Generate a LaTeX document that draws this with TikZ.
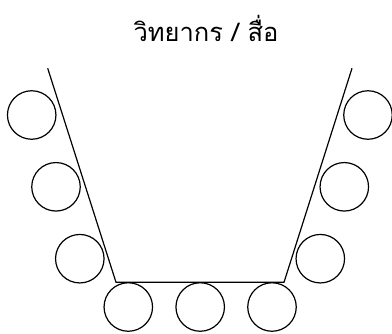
\documentclass[tikz,border=0pt]{standalone}
\usepackage{fontspec}
\newfontfamily\thaifont[Script=Thai]{Loma}
\tikzset{seat/.style={draw, black, line width=1.2pt, circle, minimum size=48.5pt, inner sep=0pt}}
\tikzset{table/.style={draw, black, line width=1.2pt}}

\begin{document}
\begin{tikzpicture}[x=1pt,y=-1pt]
      \useasboundingbox (0,0) rectangle (392,333);

      % speaker
      \node (speaker) at (206,28) {\thaifont\fontsize{25.5}{30}\selectfont วิทยากร / สื่อ};

      % table corners
      \coordinate (tl) at (47.7,68.3);
      \coordinate (bl) at (116,282.3);
      \coordinate (br) at (284,282.3);
      \coordinate (tr) at (352,68.3);
      \draw[table] (tl) -- (bl) -- (br) -- (tr);

      % left seats
      \node[seat] (l1) at (31.7,115) {};
      \node[seat] (l2) at (56,186.8) {};
      \node[seat] (l3) at (79.8,258.7) {};

      % bottom seats
      \node[seat] (b1) at (128.3,307) {};
      \node[seat] (b2) at (200.2,307) {};
      \node[seat] (b3) at (272,307) {};

      % right seats
      \node[seat] (r3) at (320.3,258.7) {};
      \node[seat] (r2) at (344.3,186.8) {};
      \node[seat] (r1) at (368,115) {};
    \end{tikzpicture}
\end{document}
